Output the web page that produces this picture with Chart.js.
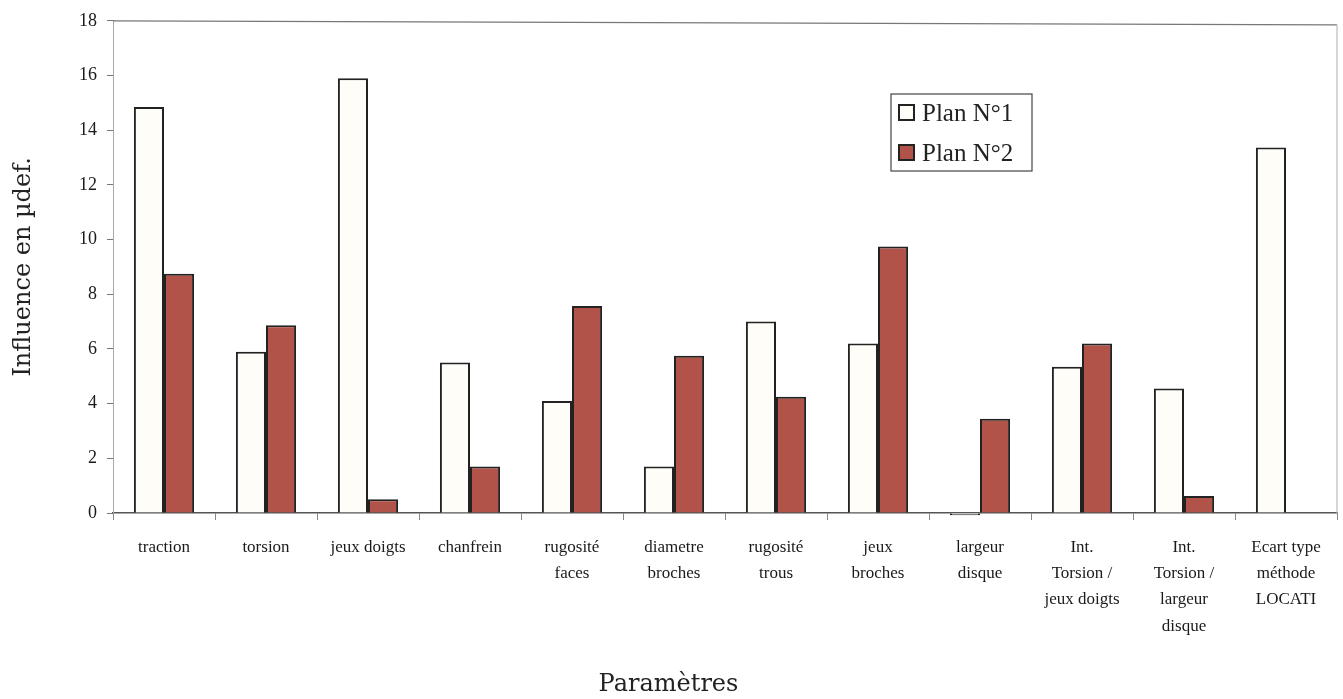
<!DOCTYPE html>
<html>
<head>
<meta charset="utf-8">
<script src="https://cdn.jsdelivr.net/npm/chart.js@4.4.1/dist/chart.umd.min.js"></script>
<style>
  html, body { margin: 0; padding: 0; background: #fff; }
  #wrap { width: 1343px; height: 699px; }
</style>
</head>
<body>
<div id="wrap"><canvas id="chart" width="1343" height="699"></canvas></div>
<script>
// categories (parametres) - multi-line labels as in the original figure
const parametres = [
  ['traction'],
  ['torsion'],
  ['jeux doigts'],
  ['chanfrein'],
  ['rugosité', 'faces'],
  ['diametre', 'broches'],
  ['rugosité', 'trous'],
  ['jeux', 'broches'],
  ['largeur', 'disque'],
  ['Int.', 'Torsion /', 'jeux doigts'],
  ['Int.', 'Torsion /', 'largeur', 'disque'],
  ['Ecart type', 'méthode', 'LOCATI']
];

// influence values (µdef.)
const plan1 = [14.85, 5.9, 15.9, 5.5, 4.1, 1.7, 7.0, 6.2, -0.08, 5.35, 4.55, 13.37];
const plan2 = [8.75, 6.87, 0.5, 1.7, 7.57, 5.75, 4.25, 9.75, 3.45, 6.2, 0.62, null];

const yTicks = [0, 2, 4, 6, 8, 10, 12, 14, 16, 18];

const serif = 'Liberation Serif';

// frame on top / right of the plot area + legend box drawn inside the plot
const framePlugin = {
  id: 'frame',
  afterDraw(chart) {
    const ctx = chart.ctx;
    const a = chart.chartArea;
    ctx.save();
    ctx.strokeStyle = '#777';
    ctx.lineWidth = 1.2;
    ctx.beginPath();
    ctx.moveTo(a.left, a.top);
    ctx.lineTo(a.right, a.top + 4);
    ctx.stroke();
    ctx.strokeStyle = '#bbb';
    ctx.beginPath();
    ctx.moveTo(a.right, a.top + 4);
    ctx.lineTo(a.right, a.bottom);
    ctx.stroke();

    // legend
    const bx = 891, by = 94, bw = 141, bh = 77;
    ctx.fillStyle = '#fff';
    ctx.fillRect(bx, by, bw, bh);
    ctx.strokeStyle = '#444';
    ctx.lineWidth = 1.2;
    ctx.strokeRect(bx, by, bw, bh);
    ctx.font = '25px "' + serif + '"';
    ctx.textBaseline = 'middle';
    chart.data.datasets.forEach((ds, i) => {
      const cy = by + 19 + i * 40;
      ctx.fillStyle = ds.backgroundColor;
      ctx.fillRect(bx + 8, cy - 8, 15, 15);
      ctx.strokeStyle = '#222';
      ctx.lineWidth = 2;
      ctx.strokeRect(bx + 8, cy - 8, 15, 15);
      ctx.fillStyle = '#222';
      ctx.fillText(ds.label, bx + 31, cy + 1);
    });
    ctx.restore();
  }
};

new Chart(document.getElementById('chart'), {
  type: 'bar',
  data: {
    labels: parametres,
    datasets: [
      {
        label: 'Plan N°1',
        data: plan1,
        backgroundColor: '#fffdf7',
        borderColor: '#222',
        borderWidth: 2,
        clip: false
      },
      {
        label: 'Plan N°2',
        data: plan2,
        backgroundColor: '#b2534a',
        borderColor: '#222',
        borderWidth: 2
      }
    ]
  },
  plugins: [framePlugin],
  options: {
    responsive: false,
    animation: false,
    events: [],
    layout: { padding: { top: 19, right: 6, bottom: 0, left: 0 } },
    datasets: {
      bar: { categoryPercentage: 0.59, barPercentage: 1, grouped: true }
    },
    plugins: {
      legend: { display: false },
      tooltip: { enabled: false },
      title: {
        display: true,
        position: 'bottom',
        text: 'Paramètres',
        color: '#222',
        padding: { top: 0, bottom: 0 },
        font: { family: 'DejaVu Serif', size: 24, weight: 'normal' }
      }
    },
    scales: {
      x: {
        grid: {
          offset: true,
          drawOnChartArea: false,
          tickLength: 7,
          color: '#888'
        },
        border: { color: '#555', width: 1.5 },
        ticks: {
          color: '#1a1a1a',
          padding: 14,
          maxRotation: 0,
          autoSkip: false,
          font: { family: serif, size: 17, lineHeight: 1.55 }
        },
        afterFit(scale) { scale.height = 699 - 513 - 28.8; }
      },
      y: {
        min: 0,
        max: 18,
        afterBuildTicks(scale) {
          scale.ticks = yTicks.map(v => ({ value: v }));
        },
        grid: {
          drawOnChartArea: false,
          tickLength: 6,
          color: '#777'
        },
        border: { color: '#aaa', width: 1, dash: [8, 4] },
        ticks: {
          color: '#1a1a1a',
          padding: 10,
          font: { family: serif, size: 18 }
        },
        title: {
          display: true,
          text: 'Influence en µdef.',
          color: '#222',
          padding: { top: 9, bottom: 0 },
          font: { family: 'DejaVu Serif', size: 24 }
        },
        afterFit(scale) { scale.width = 113; }
      }
    }
  }
});
</script>
</body>
</html>
